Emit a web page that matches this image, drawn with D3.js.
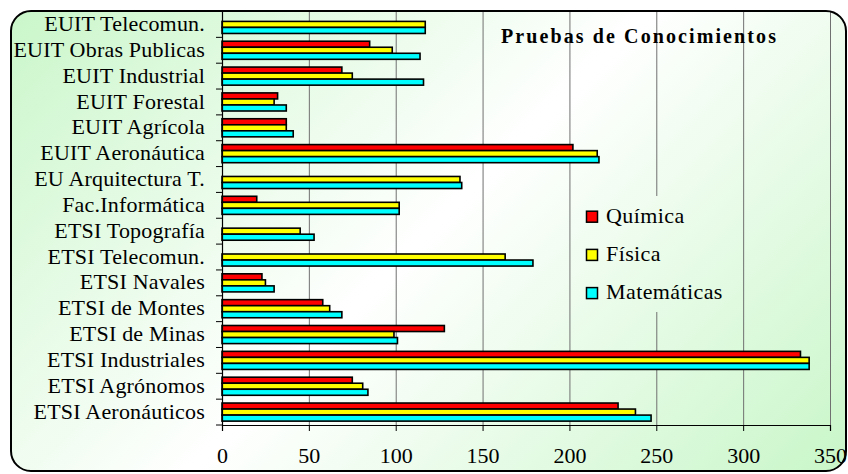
<!DOCTYPE html>
<html>
<head>
<meta charset="utf-8">
<script src="https://cdn.jsdelivr.net/npm/d3@7"></script>
<style>
  body { margin: 0; background: #ffffff; }
  svg { display: block; }
  svg text { font-family: "Liberation Serif", "Times New Roman", "DejaVu Serif", serif !important; }
</style>
</head>
<body>
<div id="chart"></div>
<script>
// ---- data (listed bottom to top, as in the chart) ----
const categories = [
  "ETSI Aeronáuticos", "ETSI Agrónomos", "ETSI Industriales", "ETSI de Minas",
  "ETSI de Montes", "ETSI Navales", "ETSI Telecomun.", "ETSI Topografía",
  "Fac.Informática", "EU Arquitectura T.", "EUIT Aeronáutica", "EUIT Agrícola",
  "EUIT Forestal", "EUIT Industrial", "EUIT Obras Publicas", "EUIT Telecomun."
];
const seriesNames = ["Química", "Física", "Matemáticas"];
const quimica     = [228, 75, 333, 128, 58, 23, null, null, 20, null, 202, 37, 32, 69, 85, null];
const fisica      = [238, 81, 338, 99, 62, 25, 163, 45, 102, 137, 216, 37, 30, 75, 98, 117];
const matematicas = [247, 84, 338, 101, 69, 30, 179, 53, 102, 138, 217, 41, 37, 116, 114, 117];
const xTicks = [0, 50, 100, 150, 200, 250, 300, 350];
const title = "Pruebas de Conocimientos";

const colors = ["#ff0000", "#ffff00", "#00ffff"];
const seriesValues = [quimica, fisica, matematicas];

const W = 848, H = 474;

const svg = d3.select("#chart").append("svg")
  .attr("width", W).attr("height", H);

const defs = svg.append("defs");
const grad = defs.append("linearGradient")
  .attr("id", "bg").attr("gradientUnits", "userSpaceOnUse")
  .attr("x1", 0).attr("y1", 0).attr("x2", 661).attr("y2", 661);
grad.append("stop").attr("offset", 0).attr("stop-color", "#c8f6c8");
grad.append("stop").attr("offset", 0.5).attr("stop-color", "#ffffff");
grad.append("stop").attr("offset", 1).attr("stop-color", "#c8f6c8");

// chart background
svg.append("rect")
  .attr("x", 11).attr("y", 11).attr("width", 835).attr("height", 460)
  .attr("rx", 20).attr("ry", 20)
  .attr("fill", "url(#bg)");

// scales
const plotTop = 11.5, plotBottom = 425;
const x = d3.scaleLinear().domain([0, 350]).range([222, 830]);
const y = d3.scaleBand().domain(categories.slice().reverse()).range([plotTop, plotBottom]);
const step = y.step();
const yInner = d3.scaleBand().domain(seriesNames).range([0.15 * step, 0.85 * step]);

// gridlines
const grid = svg.append("g")
  .attr("transform", `translate(0,${plotBottom})`)
  .call(d3.axisBottom(x).tickValues(xTicks.slice(1)).tickSize(-(plotBottom - plotTop)).tickFormat(""));
grid.select(".domain").remove();
grid.selectAll("line").attr("stroke", "#707070").attr("stroke-width", 1);

// legend box (hides gridline behind it)
const legend = svg.append("g");
legend.append("rect")
  .attr("x", 571).attr("y", 196).attr("width", 170).attr("height", 116)
  .attr("fill", "url(#bg)");
seriesNames.forEach((s, i) => {
  const base = 222.7 + i * 38.2;
  legend.append("rect")
    .attr("x", 586.5).attr("y", base - 11.5).attr("width", 11).attr("height", 11)
    .attr("fill", colors[i]).attr("stroke", "#000").attr("stroke-width", 1.5);
  legend.append("text")
    .attr("x", 606).attr("y", base)
    .attr("font-size", 22).attr("letter-spacing", 0.4)
    .attr("fill", "#000")
    .text(s);
});

// bars
const rows = categories.map((c, i) => ({ c, vals: seriesValues.map(a => a[i]) }));
const groups = svg.append("g").selectAll("g").data(rows).join("g")
  .attr("transform", d => `translate(0,${y(d.c)})`);
groups.selectAll("rect")
  .data(d => d.vals.map((v, j) => ({ v, s: seriesNames[j], j })).filter(e => e.v != null))
  .join("rect")
  .attr("x", x(0))
  .attr("y", e => yInner(e.s))
  .attr("width", e => x(e.v) - x(0))
  .attr("height", yInner.bandwidth())
  .attr("fill", e => colors[e.j])
  .attr("stroke", "#000")
  .attr("stroke-width", 1.6);

// x axis
const xAxis = svg.append("g")
  .attr("transform", `translate(0,${plotBottom})`)
  .call(d3.axisBottom(x).tickValues(xTicks).tickSize(6).tickPadding(16));
xAxis.select(".domain").attr("stroke", "#000").attr("stroke-width", 1.2);
xAxis.selectAll("line").attr("stroke", "#000");
xAxis.selectAll("text")
  .attr("font-size", 22).attr("fill", "#000");

// y axis (labels)
const yAxis = svg.append("g")
  .attr("transform", `translate(${x(0)},0)`)
  .call(d3.axisLeft(y).tickSize(0).tickPadding(17));
yAxis.select(".domain").attr("stroke", "#000").attr("stroke-width", 1.2);
yAxis.selectAll("text")
  .attr("font-size", 22).attr("fill", "#000")
  .attr("dy", "0.3em").attr("letter-spacing", 0.2);

// boundary ticks on y axis
const bounds = y.domain().map(c => y(c)).concat([plotBottom]);
svg.append("g").selectAll("line").data(bounds).join("line")
  .attr("x1", x(0) - 6).attr("x2", x(0))
  .attr("y1", d => d).attr("y2", d => d)
  .attr("stroke", "#000").attr("stroke-width", 1);

// title
svg.append("text")
  .attr("x", 501).attr("y", 43.3)
  .attr("font-size", 20).attr("font-weight", "bold")
  .attr("letter-spacing", 2.1).attr("fill", "#000")
  .text(title);

// chart border
svg.append("rect")
  .attr("x", 11).attr("y", 11).attr("width", 835).attr("height", 460)
  .attr("rx", 20).attr("ry", 20)
  .attr("fill", "none").attr("stroke", "#000").attr("stroke-width", 2);
</script>
</body>
</html>
